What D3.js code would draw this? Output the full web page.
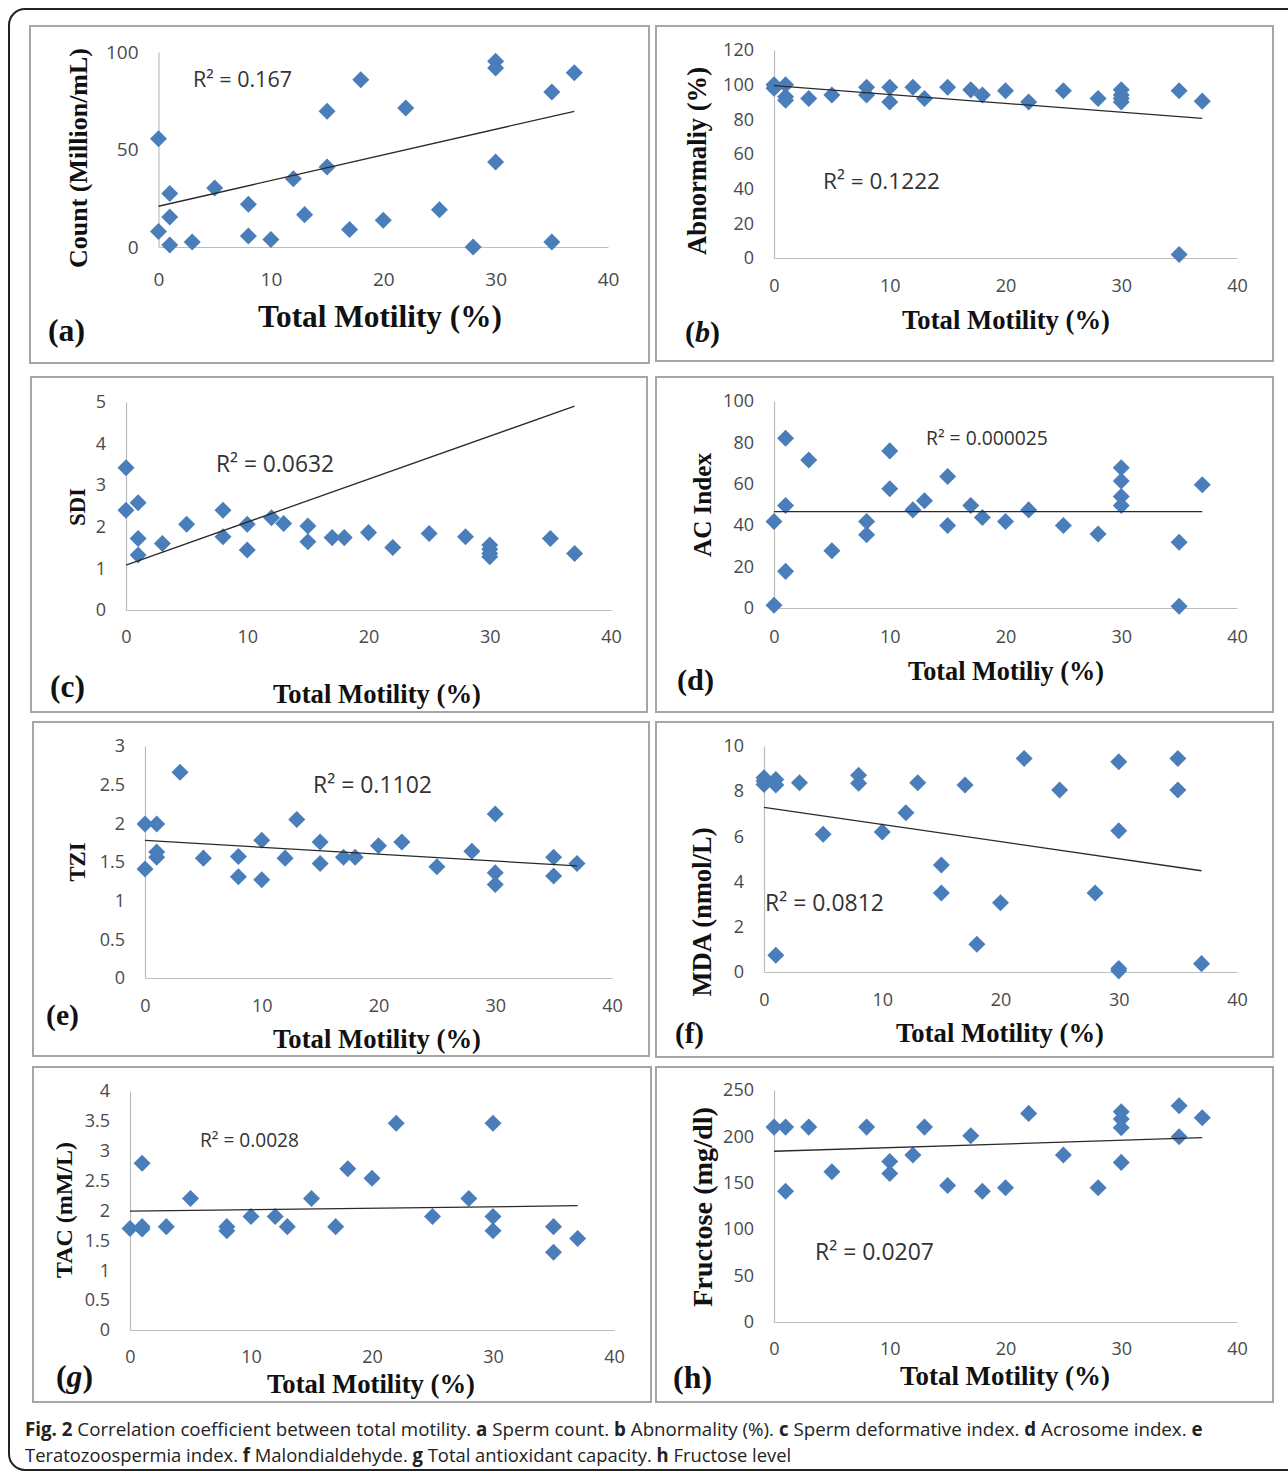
<!DOCTYPE html>
<html>
<head>
<meta charset="utf-8">
<script src="https://cdn.jsdelivr.net/npm/d3@7"></script>
<style>
  html, body { margin: 0; padding: 0; background: #fff; }
  svg { display: block; }
</style>
</head>
<body>
<svg id="chart" width="1288" height="1472"></svg>
<script>
// ---------------- data ----------------
const xTicks = [0, 10, 20, 30, 40];

const aX = [0, 0, 1, 1, 1, 3, 5, 8, 8, 10, 12, 13, 15, 15, 17, 18, 20, 22, 25, 28, 30, 30, 30, 35, 35, 37];
const aY = [55.5, 8, 27.4, 15.4, 1, 2.6, 30.3, 21.9, 5.6, 3.8, 35, 16.6, 69.6, 41, 9, 85.8, 13.7, 71.3, 19.1, 0, 95.2, 91.8, 43.6, 79.5, 2.6, 89.4];
const aTrend = [20.9, 69.6];
const aTicks = [0, 50, 100];

const bX = [0, 0, 1, 1, 1, 3, 5, 8, 8, 10, 10, 12, 13, 15, 17, 18, 20, 22, 25, 28, 30, 30, 30, 30, 35, 35, 37];
const bY = [100, 98, 100, 93, 91, 92, 94, 98.5, 94, 98.5, 90, 98.5, 92, 98.5, 97, 94, 96.5, 90, 96.5, 92, 97, 94, 92, 90, 96.5, 2, 90.5];
const bTrend = [99.4, 80.5];
const bTicks = [0, 20, 40, 60, 80, 100, 120];

const cX = [0, 0, 1, 1, 1, 3, 5, 8, 8, 10, 10, 12, 13, 15, 15, 17, 18, 20, 22, 25, 28, 30, 30, 30, 30, 35, 37];
const cY = [3.42, 2.4, 2.58, 1.72, 1.32, 1.6, 2.06, 2.4, 1.76, 2.06, 1.44, 2.22, 2.08, 2.02, 1.64, 1.74, 1.74, 1.86, 1.5, 1.84, 1.76, 1.56, 1.46, 1.36, 1.28, 1.72, 1.36];
const cTrend = [1.08, 4.9];
const cTicks = [0, 1, 2, 3, 4, 5];

const dX = [0, 0, 1, 1, 1, 3, 5, 8, 8, 10, 10, 12, 13, 15, 15, 17, 18, 20, 22, 25, 28, 30, 30, 30, 30, 35, 35, 37];
const dY = [41.8, 1.3, 82, 49.5, 17.7, 71.5, 27.7, 41.8, 35.4, 75.9, 57.6, 47.4, 51.8, 63.5, 39.9, 49.5, 43.7, 41.8, 47.4, 39.9, 35.7, 67.8, 61.4, 53.9, 49.5, 31.8, 0.8, 59.5];
const dTrend = [46.6, 46.6];
const dTicks = [0, 20, 40, 60, 80, 100];

const eX = [0, 0, 1, 1, 1, 3, 5, 8, 8, 10, 10, 12, 13, 15, 15, 17, 18, 20, 22, 25, 28, 30, 30, 30, 35, 35, 37];
const eY = [1.99, 1.41, 1.99, 1.63, 1.56, 2.66, 1.55, 1.57, 1.31, 1.78, 1.27, 1.55, 2.05, 1.76, 1.48, 1.56, 1.56, 1.71, 1.76, 1.44, 1.64, 2.12, 1.36, 1.21, 1.56, 1.32, 1.48];
const eTrend = [1.78, 1.45];
const eTicks = [0, 0.5, 1, 1.5, 2, 2.5, 3];

const fX = [0, 0, 0, 1, 1, 1, 3, 5, 8, 8, 10, 12, 13, 15, 15, 17, 18, 20, 22, 25, 28, 30, 30, 30, 30, 35, 35, 37];
const fY = [8.6, 8.45, 8.3, 8.52, 8.27, 0.74, 8.37, 6.1, 8.71, 8.35, 6.2, 7.05, 8.37, 4.73, 3.5, 8.27, 1.23, 3.06, 9.45, 8.05, 3.5, 9.3, 6.25, 0.15, 0.05, 9.45, 8.05, 0.37];
const fTrend = [7.28, 4.48];
const fTicks = [0, 2, 4, 6, 8, 10];

const gX = [0, 1, 1, 1, 3, 5, 8, 8, 10, 12, 13, 15, 17, 18, 20, 22, 25, 28, 30, 30, 30, 35, 35, 37];
const gY = [1.7, 2.79, 1.73, 1.69, 1.73, 2.2, 1.73, 1.66, 1.9, 1.9, 1.73, 2.2, 1.73, 2.7, 2.54, 3.46, 1.9, 2.2, 3.46, 1.9, 1.66, 1.73, 1.3, 1.53];
const gTrend = [1.99, 2.08];
const gTicks = [0, 0.5, 1, 1.5, 2, 2.5, 3, 3.5, 4];

const hX = [0, 1, 1, 3, 5, 8, 10, 10, 12, 13, 15, 17, 18, 20, 22, 25, 28, 30, 30, 30, 30, 35, 35, 37];
const hY = [210, 210, 141, 210, 162, 210, 173, 160, 180, 210, 147, 200.7, 141, 144.6, 224.8, 180, 144.6, 226.6, 218.7, 209.4, 172, 233, 199.6, 220];
const hTrend = [184, 198.6];
const hTicks = [0, 50, 100, 150, 200, 250];

const trendEndX = 37;
const panelLabels = ["a", "b", "c", "d", "e", "f", "g", "h"];
const r2Labels = ["R² = 0.167", "R² = 0.1222", "R² = 0.0632", "R² = 0.000025", "R² = 0.1102", "R² = 0.0812", "R² = 0.0028", "R² = 0.0207"];
const xTitles = ["Total Motility (%)", "Total Motility (%)", "Total Motility (%)", "Total Motiliy (%)",
                 "Total Motility (%)", "Total Motility (%)", "Total Motility (%)", "Total Motility (%)"];
const yTitles = ["Count (Million/mL)", "Abnormaliy (%)", "SDI", "AC Index", "TZI", "MDA (nmol/L)", "TAC (mM/L)", "Fructose (mg/dl)"];

// ---------------- layout (pixels) ----------------
const layout = {
  a: {box:[30,26,649,363],  xr:[158.5,608], yr:[247,52],  fs:19, xOff:32, r2:[193,87,99],    xt:[380,327,244],  yt:[78,158,220],  lab:[48,341,37]},
  b: {box:[656,26,1273,361],xr:[774,1237], yr:[258,50],   fs:18, xOff:28, r2:[823,189,117],  xt:[1006,329,208], yt:[697,161,188], lab:[685,342,35], italic:true},
  c: {box:[31,377,647,712], xr:[126,611],  yr:[610,402],  fs:18, xOff:27, r2:[216,472,118],  xt:[377,703,208],  yt:[77,507,38],   lab:[50,697,35]},
  d: {box:[656,377,1273,712],xr:[774,1237],yr:[608,401],  fs:18, xOff:29, r2:[926,445,122],  xt:[1006,680,196], yt:[702,505,104], lab:[677,690,37]},
  e: {box:[33,722,649,1056],xr:[145,612],  yr:[978,746],  fs:18, xOff:28, r2:[313,793,119],  xt:[377,1048,208], yt:[77,862,39],   lab:[46,1025,33]},
  f: {box:[656,722,1273,1057],xr:[764,1237],yr:[972,746], fs:18, xOff:28, r2:[765,911,119],  xt:[1000,1042,208],yt:[702,912,169], lab:[675,1043,29]},
  g: {box:[33,1067,651,1402],xr:[130,614], yr:[1330,1091],fs:18, xOff:27, r2:[200,1147,99],  xt:[371,1393,208], yt:[64,1210,136], lab:[56,1387,37], italic:true},
  h: {box:[656,1067,1273,1402],xr:[774,1237],yr:[1322,1090],fs:18, xOff:27, r2:[815,1260,119], xt:[1005,1385,210],yt:[702,1207,200], lab:[673,1388,39]}
};

const series = [
  {X:aX, Y:aY, T:aTrend, ticks:aTicks},
  {X:bX, Y:bY, T:bTrend, ticks:bTicks},
  {X:cX, Y:cY, T:cTrend, ticks:cTicks},
  {X:dX, Y:dY, T:dTrend, ticks:dTicks},
  {X:eX, Y:eY, T:eTrend, ticks:eTicks},
  {X:fX, Y:fY, T:fTrend, ticks:fTicks},
  {X:gX, Y:gY, T:gTrend, ticks:gTicks},
  {X:hX, Y:hY, T:hTrend, ticks:hTicks}
];

const markerColor = "#4a7ebb";
const svg = d3.select("#chart");

function fitWidth(sel, w) {
  const len = sel.node().getComputedTextLength();
  const fs = parseFloat(sel.attr("font-size"));
  if (len > 0) sel.attr("font-size", (fs * w / len).toFixed(2));
}

// outer frame
svg.append("rect")
  .attr("x", 9).attr("y", 9).attr("width", 1300).attr("height", 1461)
  .attr("rx", 16).attr("ry", 16)
  .attr("fill", "none").attr("stroke", "#222").attr("stroke-width", 2);

const diamond = d3.symbol().type(d3.symbolSquare).size(145);

panelLabels.forEach((key, i) => {
  const L = layout[key];
  const S = series[i];
  const g = svg.append("g");

  // panel border
  g.append("rect")
    .attr("x", L.box[0]).attr("y", L.box[1])
    .attr("width", L.box[2] - L.box[0]).attr("height", L.box[3] - L.box[1])
    .attr("fill", "#fff").attr("stroke", "#a6a6a6").attr("stroke-width", 2);

  const yMax = S.ticks[S.ticks.length - 1];
  const x = d3.scaleLinear().domain([0, 40]).range(L.xr);
  const y = d3.scaleLinear().domain([0, yMax]).range(L.yr);

  // x axis
  const xa = g.append("g").attr("transform", `translate(0,${L.yr[0]})`)
    .call(d3.axisBottom(x).tickValues(xTicks).tickSize(0).tickFormat(d3.format("d")));
  xa.select(".domain").attr("stroke", "#bcbcbc").attr("stroke-width", 1.2);
  xa.selectAll("text").attr("y", L.xOff).attr("dy", "0.35em")
    .attr("font-family", "'Open Sans', sans-serif").attr("font-size", L.fs).attr("fill", "#4a4a4a");

  // y axis
  const ya = g.append("g").attr("transform", `translate(${L.xr[0]},0)`)
    .call(d3.axisLeft(y).tickValues(S.ticks).tickSize(0).tickPadding(20).tickFormat(d => String(d)));
  ya.select(".domain").attr("stroke", "#bcbcbc").attr("stroke-width", 1.2);
  ya.selectAll("text")
    .attr("font-family", "'Open Sans', sans-serif").attr("font-size", L.fs).attr("fill", "#4a4a4a");

  // markers
  const pts = S.X.map((v, j) => [v, S.Y[j]]);
  g.append("g").selectAll("path").data(pts).join("path")
    .attr("d", diamond)
    .attr("transform", d => `translate(${x(d[0])},${y(d[1])}) rotate(45)`)
    .attr("fill", markerColor);

  // trend line
  g.append("line")
    .attr("x1", x(0)).attr("y1", y(S.T[0]))
    .attr("x2", x(trendEndX)).attr("y2", y(S.T[1]))
    .attr("stroke", "#2a2a2a").attr("stroke-width", 1.3);

  // R² label
  const r2 = g.append("text")
    .attr("x", L.r2[0]).attr("y", L.r2[1])
    .attr("font-family", "'Open Sans', sans-serif").attr("font-size", 18).attr("fill", "#333")
    .text(r2Labels[i]);
  fitWidth(r2, L.r2[2]);

  // x title
  const xt = g.append("text")
    .attr("x", L.xt[0]).attr("y", L.xt[1]).attr("text-anchor", "middle")
    .attr("font-family", "'Liberation Serif', serif").attr("font-weight", "bold")
    .attr("font-size", 26).attr("fill", "#111")
    .text(xTitles[i]);
  fitWidth(xt, L.xt[2]);

  // y title
  const yt = g.append("text")
    .attr("transform", `translate(${L.yt[0]},${L.yt[1]}) rotate(-90)`)
    .attr("text-anchor", "middle").attr("dy", "0.35em")
    .attr("font-family", "'Liberation Serif', serif").attr("font-weight", "bold")
    .attr("font-size", 26).attr("fill", "#111")
    .text(yTitles[i]);
  fitWidth(yt, L.yt[2]);

  // panel letter
  const lab = g.append("text")
    .attr("x", L.lab[0]).attr("y", L.lab[1])
    .attr("font-family", "'Liberation Serif', serif").attr("font-weight", "bold")
    .attr("font-size", 28).attr("fill", "#111");
  lab.append("tspan").text("(");
  lab.append("tspan").attr("font-style", L.italic ? "italic" : "normal").text(key);
  lab.append("tspan").text(")");
  fitWidth(lab, L.lab[2]);
});

// caption
const cap1 = [
  ["Fig. 2", true], [" Correlation coefficient between total motility. ", false],
  ["a", true], [" Sperm count. ", false], ["b", true], [" Abnormality (%). ", false],
  ["c", true], [" Sperm deformative index. ", false], ["d", true], [" Acrosome index. ", false], ["e", true]
];
const cap2 = [
  ["Teratozoospermia index. ", false], ["f", true], [" Malondialdehyde. ", false],
  ["g", true], [" Total antioxidant capacity. ", false], ["h", true], [" Fructose level", false]
];
function caption(parts, yb, w) {
  const t = svg.append("text").attr("x", 0).attr("y", 0)
    .attr("font-family", "'Open Sans', sans-serif").attr("font-size", 19).attr("fill", "#222");
  parts.forEach(p => t.append("tspan").attr("font-weight", p[1] ? "bold" : "normal").text(p[0]));
  const len = t.node().getComputedTextLength();
  t.attr("transform", `translate(25,${yb}) scale(${(w / len).toFixed(4)},1)`);
}
caption(cap1, 1436, 1178);
caption(cap2, 1462, 767);
</script>
</body>
</html>
